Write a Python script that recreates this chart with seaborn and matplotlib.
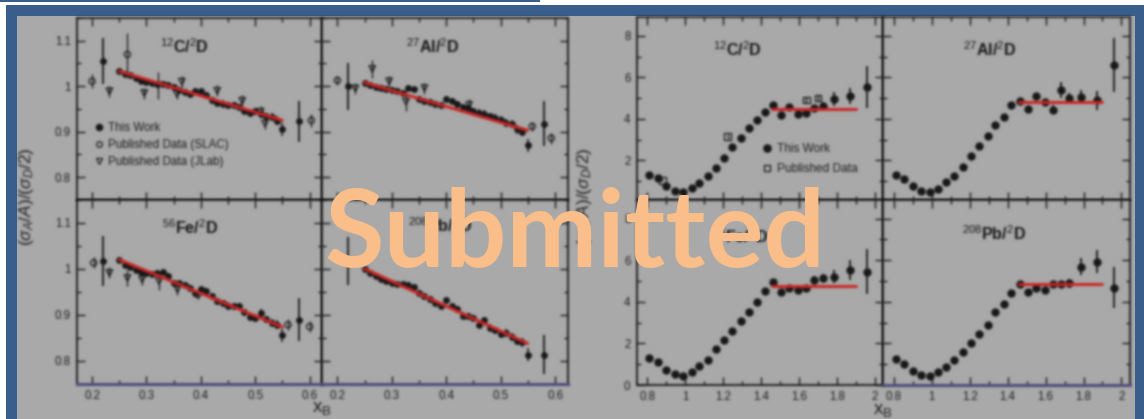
import numpy as np
import matplotlib
matplotlib.use("Agg")
import matplotlib.pyplot as plt
import seaborn as sns
from matplotlib.lines import Line2D
from matplotlib.patches import Rectangle
from matplotlib.ticker import MultipleLocator, FuncFormatter

# ---------------- EMC region (0.2 < xB < 0.6) ----------------
emc_x = [0.25, 0.26, 0.27, 0.28, 0.29, 0.30, 0.31, 0.32, 0.33, 0.34,
         0.35, 0.36, 0.37, 0.38, 0.39, 0.40, 0.41, 0.42, 0.43, 0.44,
         0.45, 0.46, 0.47, 0.48, 0.49, 0.50, 0.51, 0.52, 0.53, 0.54, 0.55]
emc_err = [0.006, 0.006, 0.006, 0.006, 0.006, 0.006, 0.006, 0.006, 0.006, 0.006,
           0.006, 0.006, 0.006, 0.006, 0.006, 0.006, 0.006, 0.007, 0.007, 0.007,
           0.007, 0.007, 0.007, 0.007, 0.008, 0.008, 0.008, 0.008, 0.009, 0.010, 0.014]

c_emc = [1.033, 1.027, 1.024, 1.019, 1.012, 1.010, 1.008, 1.006, 1.004, 1.003,
         0.998, 0.992, 0.988, 0.982, 0.990, 0.989, 0.980, 0.969, 0.964, 0.962,
         0.958, 0.958, 0.954, 0.946, 0.942, 0.945, 0.938, 0.934, 0.932, 0.924, 0.905]
al_emc = [1.007, 1.002, 0.998, 0.996, 0.995, 0.992, 0.990, 0.985, 0.996, 0.993,
          0.972, 0.968, 0.966, 0.962, 0.958, 0.972, 0.968, 0.960, 0.955, 0.952,
          0.945, 0.942, 0.940, 0.935, 0.930, 0.926, 0.920, 0.918, 0.905, 0.900, 0.870]
fe_emc = [1.020, 1.009, 1.003, 0.998, 0.994, 0.990, 0.988, 0.991, 0.993, 0.984,
          0.970, 0.968, 0.965, 0.958, 0.947, 0.955, 0.952, 0.940, 0.929, 0.926,
          0.920, 0.918, 0.918, 0.905, 0.896, 0.893, 0.904, 0.890, 0.882, 0.878, 0.855]
pb_emc = [1.000, 0.991, 0.984, 0.977, 0.973, 0.970, 0.966, 0.966, 0.965, 0.961,
          0.948, 0.940, 0.935, 0.926, 0.918, 0.933, 0.920, 0.912, 0.898, 0.897,
          0.893, 0.878, 0.888, 0.872, 0.866, 0.858, 0.861, 0.852, 0.842, 0.840, 0.813]

# wide bins at both ends of the acceptance
emc_edge_x = [0.22, 0.58]
c_edge, c_edge_err = [1.056, 0.923], [0.050, 0.045]
al_edge, al_edge_err = [1.000, 0.918], [0.052, 0.050]
fe_edge, fe_edge_err = [1.017, 0.889], [0.055, 0.047]
pb_edge, pb_edge_err = [1.017, 0.813], [0.053, 0.042]

# linear EMC fits
emc_fit_x = [0.25, 0.55]
c_fit = [1.033, 0.925]
al_fit = [1.008, 0.903]
fe_fit = [1.020, 0.873]
pb_fit = [1.000, 0.837]

# previously published EMC ratios
c_slac_x, c_slac_y, c_slac_err = [0.200, 0.265, 0.603], [1.011, 1.070, 0.925], [0.015, 0.047, 0.015]
c_jlab_x = [0.232, 0.296, 0.322, 0.356, 0.365, 0.430, 0.476, 0.510, 0.518]
c_jlab_y = [0.989, 0.985, 1.002, 0.983, 1.010, 0.990, 0.968, 0.944, 0.918]
c_jlab_err = [0.012, 0.012, 0.030, 0.012, 0.012, 0.012, 0.012, 0.012, 0.012]

al_slac_x, al_slac_y, al_slac_err = [0.200, 0.558, 0.593], [1.013, 0.912, 0.886], [0.010, 0.010, 0.012]
al_jlab_x = [0.233, 0.264, 0.295, 0.326, 0.360, 0.442]
al_jlab_y = [0.995, 1.038, 1.011, 0.966, 0.996, 0.959]
al_jlab_err = [0.012, 0.020, 0.012, 0.020, 0.012, 0.012]

fe_slac_x, fe_slac_y, fe_slac_err = [0.203, 0.394, 0.560, 0.600], [1.013, 0.944, 0.878, 0.874], [0.012, 0.010, 0.012, 0.012]
fe_jlab_x = [0.232, 0.265, 0.292, 0.323, 0.357]
fe_jlab_y = [0.991, 0.980, 0.977, 0.973, 0.955]
fe_jlab_err = [0.012, 0.018, 0.012, 0.020, 0.012]

# ---------------- SRC region (0.8 < xB < 2) ----------------
src_x = [0.81, 0.855, 0.90, 0.945, 0.99, 1.035, 1.075, 1.12, 1.165, 1.205,
         1.25, 1.295, 1.335, 1.38, 1.42, 1.465, 1.505, 1.55, 1.595, 1.64,
         1.68, 1.725, 1.785, 1.87, 1.96]

c_src = [1.31, 1.16, 0.78, 0.55, 0.50, 0.67, 0.91, 1.27, 1.66, 2.10,
         2.63, 3.10, 3.58, 3.95, 4.31, 4.67, 4.19, 4.55, 4.25, 4.28,
         4.50, 4.63, 4.94, 5.10, 5.52]
al_src = [1.31, 1.12, 0.75, 0.51, 0.48, 0.64, 0.95, 1.27, 1.71, 2.22,
          2.70, 3.18, 3.71, 4.11, 4.67, 4.85, 4.47, 5.08, 4.80, 4.45,
          5.39, 5.00, 5.07, 4.90, 6.60]
fe_src = [1.29, 1.10, 0.74, 0.53, 0.45, 0.61, 0.93, 1.21, 1.71, 2.15,
          2.58, 3.07, 3.52, 3.97, 4.52, 4.94, 4.46, 4.65, 4.57, 4.65,
          5.05, 5.13, 5.21, 5.53, 5.46]
pb_src = [1.23, 1.02, 0.69, 0.48, 0.45, 0.61, 0.86, 1.18, 1.58, 2.03,
          2.47, 2.91, 3.52, 3.92, 4.41, 4.84, 4.49, 4.65, 4.57, 4.84,
          4.84, 4.89, 5.70, 5.94, 4.69]

c_src_err = [0.05, 0.05, 0.04, 0.03, 0.03, 0.03, 0.04, 0.05, 0.06, 0.07,
             0.08, 0.09, 0.10, 0.10, 0.11, 0.12, 0.12, 0.13, 0.14, 0.15,
             0.18, 0.20, 0.33, 0.40, 1.00]
al_src_err = [0.05, 0.05, 0.04, 0.03, 0.03, 0.03, 0.04, 0.05, 0.06, 0.07,
              0.08, 0.09, 0.10, 0.10, 0.11, 0.12, 0.14, 0.16, 0.18, 0.20,
              0.38, 0.25, 0.30, 0.45, 1.30]
fe_src_err = [0.05, 0.05, 0.04, 0.03, 0.03, 0.03, 0.04, 0.05, 0.06, 0.07,
              0.08, 0.09, 0.10, 0.10, 0.11, 0.12, 0.12, 0.13, 0.14, 0.15,
              0.20, 0.20, 0.32, 0.48, 1.09]
pb_src_err = [0.05, 0.05, 0.04, 0.03, 0.03, 0.03, 0.04, 0.05, 0.06, 0.07,
              0.08, 0.09, 0.10, 0.10, 0.11, 0.12, 0.12, 0.13, 0.14, 0.15,
              0.18, 0.20, 0.40, 0.55, 0.97]

# plateau fits
src_fit_x = [1.46, 1.90]
c_plateau = [4.47, 4.47]
al_plateau = [4.83, 4.83]
fe_plateau = [4.78, 4.78]
pb_plateau = [4.84, 4.84]

# previously published SRC ratios (carbon)
c_pub_x = [0.88, 1.225, 1.64, 1.70]
c_pub_y = [1.05, 3.15, 4.90, 5.00]
c_pub_err = [0.05, 0.10, 0.15, 0.15]

# ---------------- style ----------------
sns.set_theme(style="ticks")
plt.rcParams["font.family"] = ["Liberation Sans", "DejaVu Sans"]
plt.rcParams["mathtext.fontset"] = "custom"
plt.rcParams["mathtext.rm"] = "Liberation Sans"
plt.rcParams["mathtext.it"] = "Liberation Sans:italic"
plt.rcParams["mathtext.bf"] = "Liberation Sans:bold"

BLUE = "#3a5e8c"
PANEL = "#a9a9a9"
INK = "#161616"
LABEL = "#1c1c1c"
FIT = "#cf2323"
STAMP = "#f9be89"

W, H = 1144, 419
fig = plt.figure(figsize=(W / 100, H / 100), dpi=100)
fig.patch.set_facecolor("white")


def soften(sigma):
    """Gaussian blur used as an agg filter."""
    pad = int(np.ceil(3 * sigma))
    r = np.arange(-pad, pad + 1)
    kern = np.exp(-0.5 * (r / sigma) ** 2)
    kern /= kern.sum()

    def _pass(a, axis):
        n = a.shape[axis]
        width = [(0, 0)] * a.ndim
        width[axis] = (pad, pad)
        b = np.pad(a, width)
        out = np.zeros_like(a)
        for i, kv in enumerate(kern):
            sl = [slice(None)] * a.ndim
            sl[axis] = slice(i, i + n)
            out += kv * b[tuple(sl)]
        return out

    def _filter(img, dpi):
        a = np.pad(img.astype(float), ((pad, pad), (pad, pad), (0, 0)))
        a[..., :3] *= a[..., 3:4]
        a = _pass(_pass(a, 0), 1)
        alpha = a[..., 3:4]
        a[..., :3] = np.where(alpha > 1e-6, a[..., :3] / np.maximum(alpha, 1e-6), 0.0)
        return np.clip(a, 0, 1), -pad, -pad

    return _filter


BLUR = soften(1.2)


def frect(x0, y0, x1, y1):
    return [x0 / W, 1 - y1 / H, (x1 - x0) / W, (y1 - y0) / H]


# slide background
fig.add_artist(Rectangle((0, 1 - 2.4 / H), 540 / W, 2.4 / H, transform=fig.transFigure,
                         facecolor=BLUE, edgecolor="none", zorder=-10))
fig.add_artist(Rectangle((5.8 / W, 0), 1 - 5.8 / W, 1 - 5.2 / H, transform=fig.transFigure,
                         facecolor=BLUE, edgecolor="none", zorder=-10))
fig.add_artist(Rectangle((16.5 / W, 0), (1135 - 16.5) / W, 1 - 16.5 / H, transform=fig.transFigure,
                         facecolor=PANEL, edgecolor="none", zorder=-9))

EMC_L, EMC_M, EMC_R = 76.8, 322.2, 567.6
EMC_T, EMC_C, EMC_B = 18.0, 200.0, 383.5
SRC_L, SRC_M, SRC_R = 636.7, 883.3, 1130.0
SRC_T, SRC_C, SRC_B = 17.0, 200.0, 385.0

fmt = FuncFormatter(lambda v, p: f"{v:g}")


def style_axes(ax, show_x, show_y, bottom_color=INK):
    ax.set_facecolor(PANEL)
    for side, sp in ax.spines.items():
        sp.set_visible(True)
        sp.set_color(INK)
        sp.set_linewidth(1.3)
    ax.spines["bottom"].set_color(bottom_color)
    if bottom_color != INK:
        ax.spines["bottom"].set_linewidth(2.2)
    ax.tick_params(which="both", direction="in", top=True, right=True,
                   color=INK, labelcolor=LABEL, labelsize=8.3, width=1.0)
    ax.tick_params(which="major", length=6, pad=4.5)
    ax.tick_params(which="minor", length=3)
    ax.tick_params(axis="x", labelbottom=show_x)
    ax.tick_params(axis="y", labelleft=show_y)
    ax.xaxis.set_major_formatter(fmt)
    ax.yaxis.set_major_formatter(fmt)
    ax.set_xlabel("")
    ax.set_ylabel("")
    ax.set_agg_filter(BLUR)


def draw_emc(ax, y, edge_y, edge_err, fit, slac=None, jlab=None):
    if slac is not None:
        ax.errorbar(slac[0], slac[1], yerr=slac[2], fmt="none", ecolor=INK, elinewidth=0.9, zorder=2)
        sns.scatterplot(x=slac[0], y=slac[1], ax=ax, marker="o", s=20, color=INK,
                        facecolor="none", edgecolor=INK, linewidth=0.9, zorder=2, legend=False)
    if jlab is not None:
        ax.errorbar(jlab[0], jlab[1], yerr=jlab[2], fmt="none", ecolor=INK, elinewidth=0.9, zorder=2)
        sns.scatterplot(x=jlab[0], y=jlab[1], ax=ax, marker="v", s=22, color=INK,
                        facecolor="none", edgecolor=INK, linewidth=0.9, zorder=2, legend=False)
    ax.errorbar(emc_x, y, yerr=emc_err, fmt="none", ecolor=INK, elinewidth=1.1, zorder=3)
    ax.errorbar(emc_edge_x, edge_y, yerr=edge_err, fmt="none", ecolor=INK, elinewidth=1.3, zorder=3)
    sns.scatterplot(x=emc_x + emc_edge_x, y=y + edge_y, ax=ax, s=24, color=INK,
                    edgecolor=INK, linewidth=0, zorder=3, legend=False)
    sns.lineplot(x=emc_fit_x, y=fit, ax=ax, color=FIT, linewidth=2.1, zorder=4)
    ax.set_xlim(0.172, 0.623)
    ax.set_ylim(0.75, 1.15)
    ax.xaxis.set_major_locator(MultipleLocator(0.1))
    ax.xaxis.set_minor_locator(MultipleLocator(0.05))
    ax.yaxis.set_major_locator(MultipleLocator(0.1))
    ax.yaxis.set_minor_locator(MultipleLocator(0.05))


def draw_src(ax, y, err, plateau, ylo, pub=None):
    if pub is not None:
        ax.errorbar(pub[0], pub[1], yerr=pub[2], fmt="none", ecolor=INK, elinewidth=0.9, zorder=2)
        sns.scatterplot(x=pub[0], y=pub[1], ax=ax, marker="s", s=22, color=INK,
                        facecolor="none", edgecolor=INK, linewidth=0.9, zorder=2, legend=False)
    ax.errorbar(src_x, y, yerr=err, fmt="none", ecolor=INK, elinewidth=1.3, zorder=3)
    sns.scatterplot(x=src_x, y=y, ax=ax, s=36, color=INK, edgecolor=INK,
                    linewidth=0, zorder=3, legend=False)
    sns.lineplot(x=src_fit_x, y=plateau, ax=ax, color=FIT, linewidth=2.1, zorder=4)
    ax.set_xlim(0.745, 2.045)
    ax.set_ylim(ylo, 8.9)
    ax.xaxis.set_major_locator(MultipleLocator(0.2))
    ax.xaxis.set_minor_locator(MultipleLocator(0.1))
    ax.yaxis.set_major_locator(MultipleLocator(2))
    ax.yaxis.set_minor_locator(MultipleLocator(1))


def title(ax, text, x, y):
    ax.text(x, y, text, transform=ax.transAxes, ha="center", va="center",
            fontsize=11.5, fontweight="bold", color=INK, zorder=6)


# ---- EMC block ----
ax_c = fig.add_axes(frect(EMC_L, EMC_T, EMC_M, EMC_C))
ax_al = fig.add_axes(frect(EMC_M, EMC_T, EMC_R, EMC_C))
ax_fe = fig.add_axes(frect(EMC_L, EMC_C, EMC_M, EMC_B))
ax_pb = fig.add_axes(frect(EMC_M, EMC_C, EMC_R, EMC_B))

draw_emc(ax_c, c_emc, c_edge, c_edge_err, c_fit,
         slac=(c_slac_x, c_slac_y, c_slac_err), jlab=(c_jlab_x, c_jlab_y, c_jlab_err))
draw_emc(ax_al, al_emc, al_edge, al_edge_err, al_fit,
         slac=(al_slac_x, al_slac_y, al_slac_err), jlab=(al_jlab_x, al_jlab_y, al_jlab_err))
draw_emc(ax_fe, fe_emc, fe_edge, fe_edge_err, fe_fit,
         slac=(fe_slac_x, fe_slac_y, fe_slac_err), jlab=(fe_jlab_x, fe_jlab_y, fe_jlab_err))
draw_emc(ax_pb, pb_emc, pb_edge, pb_edge_err, pb_fit)

style_axes(ax_c, False, True)
style_axes(ax_al, False, False)
style_axes(ax_fe, True, True, bottom_color="#4d4d7c")
style_axes(ax_pb, True, False, bottom_color="#4d4d7c")

title(ax_c, r"$^{12}$C/$^{2}$D", 0.44, 0.84)
title(ax_al, r"$^{27}$Al/$^{2}$D", 0.45, 0.84)
title(ax_fe, r"$^{56}$Fe/$^{2}$D", 0.46, 0.85)
title(ax_pb, r"$^{208}$Pb/$^{2}$D", 0.48, 0.86)

emc_handles = [
    Line2D([], [], ls="none", marker="o", ms=4.4, color=INK),
    Line2D([], [], ls="none", marker="o", ms=4.0, mfc="none", mec=INK, mew=0.9),
    Line2D([], [], ls="none", marker="v", ms=4.0, mfc="none", mec=INK, mew=0.9),
]
leg = ax_c.legend(emc_handles, ["This Work", "Published Data (SLAC)", "Published Data (JLab)"],
                  loc="upper left", bbox_to_anchor=(0.07, 0.43), frameon=False,
                  fontsize=8.4, handlelength=0.9, handletextpad=0.3, labelspacing=0.45,
                  borderpad=0, borderaxespad=0)
for t in leg.get_texts():
    t.set_color(LABEL)

# ---- SRC block ----
bx_c = fig.add_axes(frect(SRC_L, SRC_T, SRC_M, SRC_C))
bx_al = fig.add_axes(frect(SRC_M, SRC_T, SRC_R, SRC_C))
bx_fe = fig.add_axes(frect(SRC_L, SRC_C, SRC_M, SRC_B))
bx_pb = fig.add_axes(frect(SRC_M, SRC_C, SRC_R, SRC_B))

draw_src(bx_c, c_src, c_src_err, c_plateau, 0.1, pub=(c_pub_x, c_pub_y, c_pub_err))
draw_src(bx_al, al_src, al_src_err, al_plateau, 0.1)
draw_src(bx_fe, fe_src, fe_src_err, fe_plateau, 0.0)
draw_src(bx_pb, pb_src, pb_src_err, pb_plateau, 0.0)

style_axes(bx_c, False, True)
style_axes(bx_al, False, False)
style_axes(bx_fe, True, True)
style_axes(bx_pb, True, False, bottom_color="#4d4d7c")

title(bx_c, r"$^{12}$C/$^{2}$D", 0.41, 0.82)
title(bx_al, r"$^{27}$Al/$^{2}$D", 0.43, 0.82)
title(bx_fe, r"$^{56}$Fe/$^{2}$D", 0.42, 0.80)
title(bx_pb, r"$^{208}$Pb/$^{2}$D", 0.45, 0.82)

src_handles = [
    Line2D([], [], ls="none", marker="o", ms=5.2, color=INK),
    Line2D([], [], ls="none", marker="s", ms=4.0, mfc="none", mec=INK, mew=0.9),
]
leg2 = bx_c.legend(src_handles, ["This Work", "Published Data"],
                   loc="upper left", bbox_to_anchor=(0.505, 0.31), frameon=False,
                   fontsize=8.6, handlelength=0.9, handletextpad=0.45, labelspacing=0.68,
                   borderpad=0, borderaxespad=0)
for t in leg2.get_texts():
    t.set_color(LABEL)

# ---- axis titles ----
ylab = r"$(\sigma_{A}/A)/(\sigma_{D}/2)$"
for xpx, ypx in [(27, 197), (585, 197)]:
    t = fig.text(xpx / W, 1 - ypx / H, ylab, rotation=90, ha="center", va="center",
                 fontsize=12.5, color=LABEL)
    t.set_agg_filter(BLUR)
for xpx, ypx in [(EMC_M, 408), (SRC_M, 410)]:
    t = fig.text(xpx / W, 1 - ypx / H, r"x$_{\mathregular{B}}$", ha="center", va="center",
                 fontsize=13.5, color=LABEL)
    t.set_agg_filter(BLUR)

# ---- status stamp ----
fig.text(575 / W, 1 - 267 / H, "Submitted", ha="center", va="baseline",
         fontsize=78, fontweight="bold", family=["Lato", "DejaVu Sans"],
         color=STAMP, zorder=20)

fig.savefig("out.png", dpi=100, facecolor=fig.get_facecolor())
